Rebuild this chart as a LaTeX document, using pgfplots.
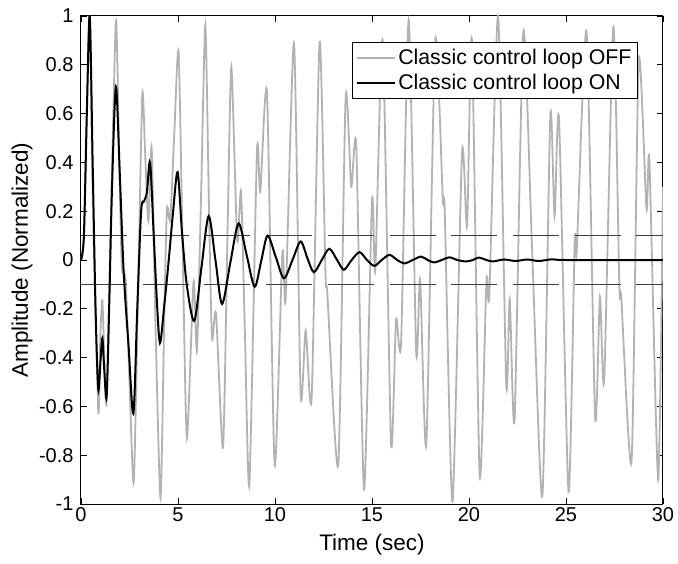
\documentclass[border=0pt]{standalone}
\usepackage{fontspec}
\setmainfont{Liberation Sans}
\usepackage{pgfplots}
\pgfplotsset{compat=1.18}
\begin{document}
\begin{tikzpicture}
\useasboundingbox (-81pt,-59pt) rectangle (597pt,504pt);
\begin{axis}[
  at={(0pt,0pt)}, anchor=south west,
  scale only axis, width=582pt, height=488pt,
  xmin=0, xmax=30, ymin=-1, ymax=1,
  xtick={0,5,10,15,20,25,30},
  xticklabels={0,5,10,15,20,25,30},
  ytick={-1,-0.8,-0.6,-0.4,-0.2,0,0.2,0.4,0.6,0.8,1},
  yticklabels={-1,-0.8,-0.6,-0.4,-0.2,0,0.2,0.4,0.6,0.8,1},
  tick align=inside, major tick length=6pt,
  tick style={black, line width=0.8pt},
  axis line style={line width=1pt},
  font=\fontsize{20}{24}\selectfont,
  /pgf/number format/assume math mode=true,
  yticklabel style={xshift=-4pt},
  xlabel={Time (sec)}, ylabel={Amplitude (Normalized)},
  label style={font=\fontsize{22.5}{26}\selectfont},
  xlabel style={at={(axis description cs:0.5,-0.084)}, anchor=center},
  ylabel style={at={(axis description cs:-0.1014,0.5)}, anchor=center},
  legend style={at={(axis description cs:0.957,0.9467)}, anchor=north east,
    draw=black, line width=1pt, fill=white,
    font=\fontsize{21.3}{25}\selectfont, inner xsep=4pt, inner ysep=5pt,
    row sep=4pt},
  legend cell align=left,
  legend image code/.code={\draw[#1] (0pt,0pt) -- (38pt,0pt);},
]
% classic control loop OFF
\addplot[black!30, line width=1.8pt, smooth, tension=0.4] coordinates {
(0,0) (0.15,0.1) (0.3,0.6) (0.45,1.0) (0.6,0.3) (0.89,-0.62) (1.0,-0.3)
(1.1,-0.165) (1.2,-0.4) (1.32,-0.58) (1.55,0.2) (1.8,0.98) (1.95,0.5)
(2.1,-0.02) (2.3,-0.08) (2.5,-0.5) (2.72,-0.91) (2.95,-0.1) (3.16,0.68)
(3.3,0.45) (3.47,0.16) (3.64,0.46) (3.85,-0.3) (4.10,-0.975) (4.3,-0.2)
(4.43,0.21) (4.6,0.165) (4.8,0.5) (5.03,0.855) (5.25,0.0) (5.46,-0.73)
(5.8,-0.09) (5.98,-0.37) (6.2,0.3) (6.41,0.965) (6.6,0.2) (6.75,-0.32)
(6.96,-0.22) (7.32,-0.77) (7.55,0.1) (7.75,0.79) (8.05,0.08) (8.25,0.28)
(8.45,-0.3) (8.68,-0.92) (9.07,0.445) (9.24,0.28) (9.59,0.685) (9.98,-0.84)
(10.38,0.03) (10.55,-0.16) (10.98,0.89) (11.32,-0.55) (11.58,-0.29)
(11.89,-0.565) (12.30,0.895) (12.6,-0.05) (12.7,-0.14) (13.26,-0.84)
(13.64,0.665) (13.93,0.30) (14.19,0.465) (14.59,-0.94) (15.0,0.245)
(15.17,-0.04) (15.55,0.9) (15.98,-0.75) (16.24,-0.245) (16.5,-0.34)
(16.89,0.985) (17.28,-0.38) (17.48,-0.08) (17.8,-0.755) (18.26,0.9)
(18.65,0.25) (18.75,0.2) (19.15,-0.99) (19.64,0.44) (19.9,0.14) (20.15,0.9)
(20.55,-0.885) (20.9,-0.085) (21.05,-0.14) (21.5,1.0) (21.92,-0.51)
(22.1,-0.16) (22.35,-0.655) (22.8,0.935) (23.25,0.05) (23.78,-0.97)
(24.19,0.59) (24.41,0.18) (24.64,0.58) (25.13,-0.95) (25.45,0.08)
(25.55,0.035) (26.06,0.935) (26.5,-0.645) (26.75,-0.15) (26.97,-0.49)
(27.44,0.955) (27.75,-0.11) (27.85,-0.155) (28.38,-0.825) (28.75,0.82)
(29.15,0.21) (29.3,0.405) (29.75,-0.9) (30,0.3)
};
\addlegendentry{Classic control loop OFF}
% tolerance band
\addplot[black!75, line width=0.8pt, dash pattern=on 46pt off 15.7pt, forget plot]
  coordinates {(0,0.1) (30,0.1)};
\addplot[black!75, line width=0.8pt, dash pattern=on 46pt off 15.7pt, forget plot]
  coordinates {(0,-0.1) (30,-0.1)};
% classic control loop ON
\addplot[black, line width=2pt, smooth, tension=0.5] coordinates {
(0,0.0) (0.15,0.1) (0.3,0.6) (0.45,1.0) (0.6,0.4) (0.75,-0.2) (0.89,-0.53)
(1.0,-0.42) (1.1,-0.32) (1.2,-0.45) (1.32,-0.56) (1.45,-0.2) (1.6,0.3)
(1.8,0.71) (2.0,0.35) (2.2,-0.05) (2.45,-0.35) (2.7,-0.63) (2.9,-0.2)
(3.1,0.2) (3.25,0.24) (3.4,0.28) (3.56,0.40) (3.75,0.1) (3.9,-0.15)
(4.07,-0.34) (4.3,-0.18) (4.5,-0.02) (4.75,0.2) (4.98,0.36) (5.2,0.12)
(5.45,-0.1) (5.84,-0.25) (6.21,-0.03) (6.58,0.18) (6.93,0.0) (7.27,-0.18)
(7.7,-0.01) (8.12,0.15) (8.54,0.02) (8.95,-0.11) (9.3,0.0) (9.62,0.10)
(10.05,0.01) (10.46,-0.075) (10.9,0.0) (11.32,0.076) (11.66,0.01)
(12.0,-0.05) (12.41,0.0) (12.8,0.046) (13.2,0.0) (13.55,-0.04) (13.95,0.0)
(14.36,0.032) (14.74,0.0) (15.12,-0.024) (15.5,0.0) (15.9,0.021)
(16.3,0.0) (16.67,-0.014) (17.1,0.0) (17.53,0.014) (17.87,0.0) (18.2,-0.01)
(18.6,0.0) (18.98,0.011) (19.4,0.0) (19.85,-0.006) (20.2,0.0) (20.5,0.01)
(20.9,0.0) (21.24,-0.006) (21.8,0.002) (22.4,-0.004) (23.0,0.002)
(23.6,-0.004) (24.3,0.003) (25.0,0.0) (30,0.0)
};
\addlegendentry{Classic control loop ON}
\end{axis}
\end{tikzpicture}
\end{document}
